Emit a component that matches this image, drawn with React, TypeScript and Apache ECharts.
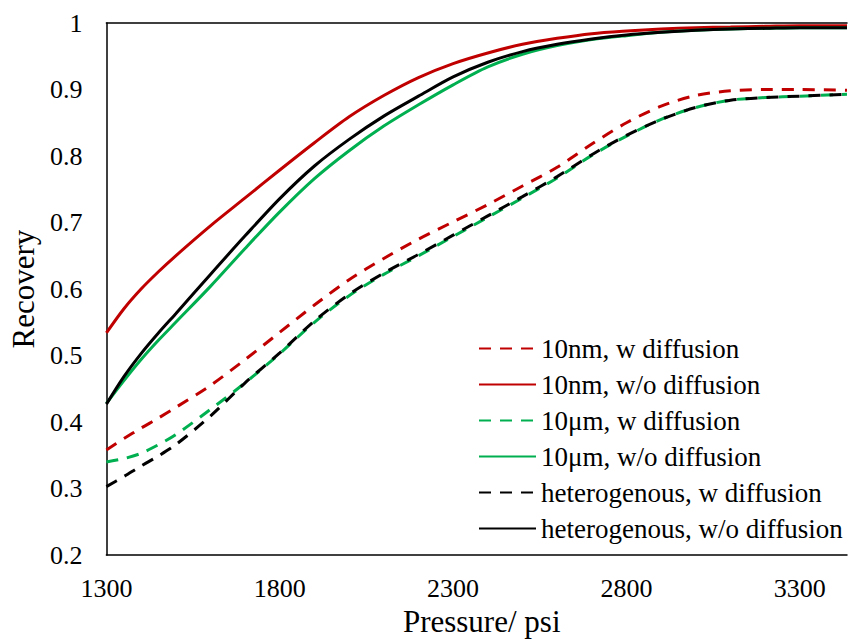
import React, { useEffect, useRef } from "react";
import * as echarts from "echarts";

const pressures = [1300, 1350, 1400, 1450, 1500, 1600, 1700, 1800, 1900, 2000, 2100, 2200, 2300, 2400, 2500, 2600, 2700, 2800, 2900, 3000, 3100, 3200, 3300, 3436];

const nmWithDiffusion = [0.358, 0.375, 0.391, 0.406, 0.422, 0.455, 0.494, 0.535, 0.576, 0.614, 0.646, 0.675, 0.701, 0.727, 0.755, 0.783, 0.818, 0.850, 0.875, 0.891, 0.898, 0.900, 0.900, 0.899];
const nmWithoutDiffusion = [0.534, 0.570, 0.600, 0.626, 0.650, 0.695, 0.737, 0.779, 0.820, 0.859, 0.891, 0.918, 0.939, 0.955, 0.968, 0.977, 0.984, 0.988, 0.991, 0.993, 0.994, 0.995, 0.996, 0.996];
const umWithDiffusion = [0.340, 0.345, 0.353, 0.366, 0.381, 0.419, 0.459, 0.503, 0.550, 0.590, 0.622, 0.650, 0.679, 0.708, 0.737, 0.767, 0.801, 0.830, 0.855, 0.873, 0.884, 0.888, 0.890, 0.893];
const umWithoutDiffusion = [0.428, 0.462, 0.494, 0.523, 0.550, 0.604, 0.661, 0.716, 0.766, 0.808, 0.845, 0.877, 0.907, 0.934, 0.953, 0.966, 0.975, 0.981, 0.986, 0.989, 0.991, 0.992, 0.993, 0.993];
const hetWithDiffusion = [0.303, 0.318, 0.334, 0.349, 0.366, 0.409, 0.459, 0.504, 0.552, 0.592, 0.624, 0.652, 0.681, 0.710, 0.739, 0.769, 0.802, 0.831, 0.855, 0.873, 0.884, 0.888, 0.890, 0.893];
const hetWithoutDiffusion = [0.427, 0.468, 0.503, 0.534, 0.563, 0.622, 0.680, 0.736, 0.785, 0.825, 0.860, 0.890, 0.919, 0.941, 0.957, 0.968, 0.976, 0.982, 0.986, 0.989, 0.991, 0.992, 0.993, 0.993];

const seriesNames = [
  "10nm, w diffusion",
  "10nm, w/o diffusion",
  "10μm, w diffusion",
  "10μm, w/o diffusion",
  "heterogenous, w diffusion",
  "heterogenous, w/o diffusion",
];
const seriesValues = [nmWithDiffusion, nmWithoutDiffusion, umWithDiffusion, umWithoutDiffusion, hetWithDiffusion, hetWithoutDiffusion];
const seriesColors = ["#C00000", "#C00000", "#00B050", "#00B050", "#000000", "#000000"];
const seriesDashed = [true, false, true, false, true, false];

const FONT = "Liberation Serif, Times New Roman, serif";

export default function App() {
  const ref = useRef<HTMLDivElement>(null);
  useEffect(() => {
    if (!ref.current) return;
    const chart = echarts.init(ref.current, null, { renderer: "svg" });
    const series = seriesNames.map((name, i) => ({
      name,
      type: "line",
      xAxisIndex: 0,
      yAxisIndex: 0,
      data: pressures.map((p, j) => [p, seriesValues[i][j]]),
      smooth: 0.3,
      symbol: "none",
      lineStyle: {
        color: seriesColors[i],
        width: 3,
        type: seriesDashed[i] ? [12, 9] : "solid",
      },
      itemStyle: { color: seriesColors[i] },
      z: seriesDashed[i] ? 3 : 2,
    }));
    chart.setOption({
      animation: false,
      backgroundColor: "#ffffff",
      textStyle: { fontFamily: FONT },
      grid: { left: 105, top: 23, right: 0, bottom: 75, containLabel: false },
      legend: {
        orient: "vertical",
        left: 473,
        top: 330,
        itemWidth: 57,
        itemHeight: 14,
        itemGap: 9,
        data: seriesNames,
        itemStyle: { opacity: 0 },
        textStyle: { fontFamily: FONT, fontSize: 27, color: "#000", lineHeight: 27 },
      },
      xAxis: [
        {
          type: "value",
          min: 1300,
          max: 3436,
          interval: 100,
          name: "Pressure/ psi",
          nameLocation: "middle",
          nameGap: 40,
          nameTextStyle: { fontFamily: FONT, fontSize: 31, color: "#000", padding: [0, 0, 0, 10] },
          axisLine: { show: true, lineStyle: { color: "#000", width: 1.5 } },
          axisTick: { show: false },
          splitLine: { show: false },
          axisLabel: {
            fontFamily: FONT,
            fontSize: 26,
            color: "#000",
            margin: 20,
            formatter: (v: number) => ((v - 1300) % 500 === 0 ? String(v) : ""),
          },
        },
        {
          type: "value",
          position: "top",
          min: 1300,
          max: 3436,
          axisLine: { show: true, lineStyle: { color: "#000", width: 1.5 } },
          axisTick: { show: false },
          axisLabel: { show: false },
          splitLine: { show: false },
        },
      ],
      yAxis: {
        type: "value",
        min: 0.2,
        max: 1,
        interval: 0.1,
        name: "Recovery",
        nameLocation: "middle",
        nameRotate: 90,
        nameGap: 62,
        nameTextStyle: { fontFamily: FONT, fontSize: 31, color: "#000" },
        axisLine: { show: true, lineStyle: { color: "#000", width: 1.5 } },
        axisTick: { show: false },
        splitLine: { show: false },
        axisLabel: { fontFamily: FONT, fontSize: 26, color: "#000", margin: 24 },
      },
      series,
    });
    return () => chart.dispose();
  }, []);
  return (
    <div
      ref={ref}
      style={{ position: "absolute", left: 0, top: 0, width: 850, height: 642, background: "#fff" }}
    />
  );
}
